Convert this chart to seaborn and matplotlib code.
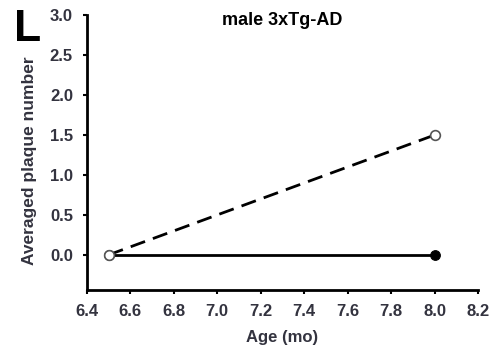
import pandas as pd
import seaborn as sns
import matplotlib.pyplot as plt

# data
age = [6.5, 8.0]
plaque_solid = [0.0, 0.0]
plaque_dashed = [0.0, 1.5]

x_ticks = [6.4, 6.6, 6.8, 7.0, 7.2, 7.4, 7.6, 7.8, 8.0, 8.2]
y_ticks = [0.0, 0.5, 1.0, 1.5, 2.0, 2.5, 3.0]

df = pd.DataFrame({
    "age": age + age,
    "plaque": plaque_solid + plaque_dashed,
    "group": ["solid"] * 2 + ["dashed"] * 2,
})

sns.set_style("ticks")
plt.rcParams["font.family"] = ["Liberation Sans", "DejaVu Sans"]
txt = "#33333f"

fig = plt.figure(figsize=(4.96, 3.52), dpi=100)
ax = fig.add_axes([0.175, 0.176, 0.789, 0.781])

sns.lineplot(data=df[df.group == "solid"], x="age", y="plaque", ax=ax,
             color="black", linewidth=2.0, marker="o", markersize=7,
             markerfacecolor="black", markeredgecolor="black")
sns.lineplot(data=df[df.group == "dashed"], x="age", y="plaque", ax=ax,
             color="black", linewidth=2.0, linestyle=(0, (5.5, 3)),
             marker="o", markersize=7, markerfacecolor="white",
             markeredgecolor="#555555", markeredgewidth=1.2)

ax.set_xlim(6.4, 8.2)
ax.set_ylim(-0.44, 3.0)
ax.set_xticks(x_ticks)
ax.set_yticks(y_ticks)
ax.set_xticklabels([f"{v:.1f}" for v in x_ticks], fontsize=12, fontweight="bold", color=txt)
ax.set_yticklabels([f"{v:.1f}" for v in y_ticks], fontsize=12, fontweight="bold", color=txt)
ax.tick_params(axis="x", length=3, width=1.5, color="black", pad=7)
ax.tick_params(axis="y", length=3, width=1.5, color="black", pad=7)

for s in ["left", "bottom"]:
    ax.spines[s].set_linewidth(2)
    ax.spines[s].set_color("black")
sns.despine(ax=ax)

ax.set_xlabel("Age (mo)", fontsize=12, fontweight="bold", color=txt, labelpad=8)
ax.set_ylabel("Averaged plaque number", fontsize=12.5, fontweight="bold", color=txt)
ax.yaxis.set_label_coords(-0.128, 0.47)
ax.text(0.5, 1.01, "male 3xTg-AD", transform=ax.transAxes, fontsize=13,
        fontweight="bold", color="black", ha="center", va="top")

fig.text(0.028, 0.975, "L", fontsize=32, fontweight="bold", color="black", va="top", ha="left")

fig.savefig("out.png", dpi=100)
